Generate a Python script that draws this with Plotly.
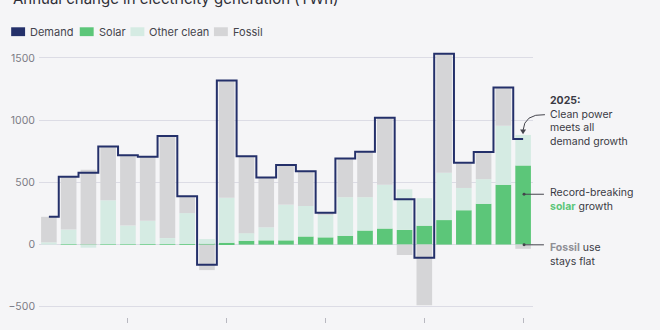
import plotly.graph_objects as go

# Annual change in electricity generation by source (TWh)
years = list(range(2001, 2026))
demand = [223, 545, 578, 789, 718, 705, 873, 389, -163, 1318, 710, 539, 639,
          589, 255, 691, 747, 1020, 365, -106, 1534, 657, 744, 1263, 849]
solar = [0, 1, 1, 1, 1, 2, 2, 3, 5, 15, 31, 34, 34, 65, 58, 71, 113, 129,
         118, 152, 197, 276, 328, 481, 636]
other_clean = [18, 120, -25, 355, 152, 189, 50, 250, 39, 361, 61, 105, 287,
               245, 185, 310, 268, 352, 326, 221, 381, 179, 198, 474, 245]
fossil = [205, 425, 600, 435, 565, 515, 825, 135, -205, 942, 618, 400, 318,
          279, 8, 310, 366, 539, -84, -487, 956, 197, 218, 308, -34]

y_ticks = [-500, 0, 500, 1000, 1500]
x_ticks = [2005, 2010, 2015, 2020, 2025]

C_DEMAND = "#24306a"
C_SOLAR = "#5cc679"
C_OTHER = "#d5ebe3"
C_FOSSIL = "#d5d5d7"
C_BG = "#f5f5f7"
C_TEXT = "#3a3a44"
C_POINTER = "#44444c"
FONT = "Inter"

# plot-area geometry (pixels) used to place labels outside the axes
W, H = 660, 330
L, T, R, B = 36, 43, 127, 8
PW, PH = W - L - R, H - T - B


def fx(px):
    return (px - L) / PW


def fy(py):
    return 1 - (py - T) / PH


fig = go.Figure()
for name, vals, col in [("Solar", solar, C_SOLAR),
                        ("Other clean", other_clean, C_OTHER),
                        ("Fossil", fossil, C_FOSSIL)]:
    fig.add_trace(go.Bar(x=years, y=vals, name=name, marker_color=col,
                         marker_line_width=0, showlegend=False))

fig.add_trace(go.Scatter(x=years, y=demand, name="Demand", mode="lines",
                         line=dict(color=C_DEMAND, width=2, shape="hvh"),
                         showlegend=False))

shapes = []
annotations = []

# title (partly above the page edge)
annotations.append(dict(text="Annual change in electricity generation (TWh)",
                        x=fx(8), y=fy(-2), xref="paper", yref="paper",
                        xanchor="left", yanchor="middle", showarrow=False,
                        font=dict(family=FONT, size=15, color="#2e2e36")))

# hand-built legend
legend_items = [("Demand", C_DEMAND, 8), ("Solar", C_SOLAR, 77),
                ("Other clean", C_OTHER, 128), ("Fossil", C_FOSSIL, 212)]
for label, col, x0 in legend_items:
    shapes.append(dict(type="rect", xref="paper", yref="paper",
                       x0=fx(x0), x1=fx(x0 + 14), y0=fy(27), y1=fy(36),
                       fillcolor=col, line_width=0))
    annotations.append(dict(text=label, x=fx(x0 + 17), y=fy(31.5),
                            xref="paper", yref="paper", xanchor="left",
                            yanchor="middle", showarrow=False,
                            font=dict(family=FONT, size=11, color="#44444c")))


def note(text, px, py, size=10.5, color=C_TEXT):
    annotations.append(dict(text=text, x=fx(px), y=fy(py), xref="paper",
                            yref="paper", xanchor="left", yanchor="middle",
                            align="left", showarrow=False, borderpad=0,
                            font=dict(family=FONT, size=size, color=color)))


note("<b>2025:</b><br>Clean power<br>meets all<br>demand growth", 549, 122)
note("Record-breaking<br><b><span style='color:#5cc679'>solar</span></b>"
     " growth", 549, 202.5)
note("<b><span style='color:#8f8f95'>Fossil</span></b> use<br>stays flat",
     549, 258.5)

# curved arrow toward the 2025 demand step
shapes.append(dict(type="path", xref="paper", yref="paper",
                   path=(f"M {fx(545)},{fy(116)} Q {fx(524)},{fy(115)} "
                         f"{fx(523)},{fy(132)}"),
                   line=dict(color=C_POINTER, width=1)))
shapes.append(dict(type="path", xref="paper", yref="paper",
                   path=(f"M {fx(520)},{fy(131)} L {fx(523)},{fy(136)} "
                         f"L {fx(526)},{fy(131)} Z"),
                   fillcolor=C_POINTER, line_width=0))

# pointer lines with dots
for py in (197, 248.5):
    shapes.append(dict(type="line", xref="paper", yref="paper",
                       x0=fx(524), x1=fx(544), y0=fy(py), y1=fy(py),
                       line=dict(color=C_POINTER, width=1)))
    shapes.append(dict(type="circle", xref="paper", yref="paper",
                       x0=fx(522.5), x1=fx(525.5), y0=fy(py - 1.5),
                       y1=fy(py + 1.5), fillcolor=C_POINTER, line_width=0))

fig.update_layout(
    width=W, height=H,
    margin=dict(l=L, r=R, t=T, b=B, pad=0),
    paper_bgcolor=C_BG, plot_bgcolor=C_BG,
    barmode="relative", bargap=0.21,
    font=dict(family=FONT, color=C_TEXT),
    shapes=shapes, annotations=annotations,
    xaxis=dict(range=[2000.5, 2025.5], tickvals=x_ticks,
               showticklabels=False, ticks="outside", ticklen=5,
               tickcolor="#b8b8c0", showgrid=False, zeroline=False,
               showline=False),
    yaxis=dict(range=[-582, 1620], tickvals=y_ticks,
               gridcolor="#dcdce5", gridwidth=1, zeroline=False,
               showline=False, ticks="", ticklabelstandoff=3,
               tickfont=dict(family=FONT, size=10.5, color="#7c7c86")),
)

fig.write_html("out.html")
